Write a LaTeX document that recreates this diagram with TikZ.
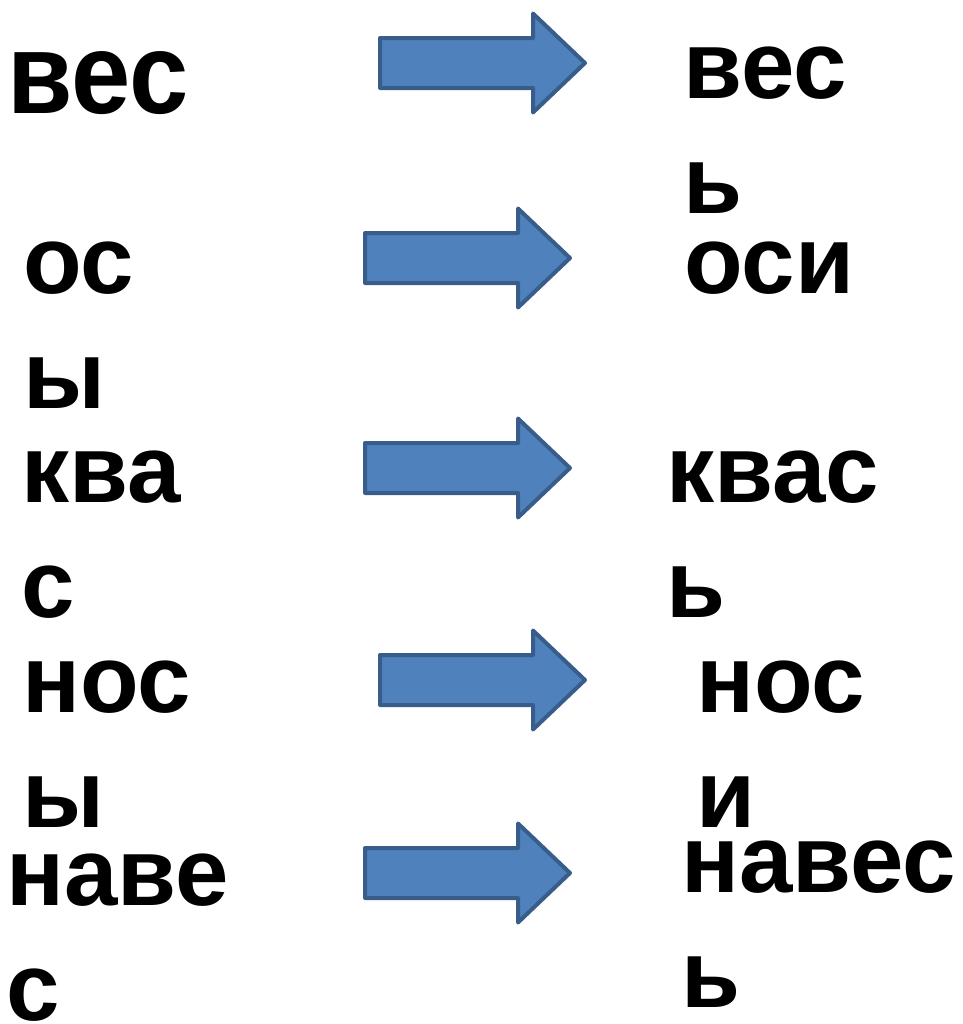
\documentclass[tikz,border=0pt]{standalone}
\usepackage{fontspec}
\setmainfont{Liberation Sans}
\definecolor{arrowfill}{HTML}{4F81BD}
\definecolor{arrowline}{HTML}{385D8A}
\tikzset{
    word/.style={anchor=base west, inner sep=0pt, align=left,
        font=\bfseries\fontsize{48}{57.5}\selectfont},
    blockarrow/.style={fill=arrowfill, draw=arrowline, line width=2pt, line join=round}
}
\begin{document}
\begin{tikzpicture}[x=0.5pt,y=-0.5pt]
    \useasboundingbox (0,0) rectangle (963,1024);
    % words before (base = last line)
    \node[word] (vesA) at (7,113) {\scalebox{1.11}[1.2]{вес}};
    \node[word] (osA) at (23,408) {ос\\ы};
    \node[word] (kvasA) at (21,617) {ква\\с};
    \node[word] (nosA) at (22,827) {нос\\ы};
    \node[word] (navesA) at (6,1020) {наве\\с};
    % words after
    \node[word] (vesB) at (683,213) {вес\\ь};
    \node[word] (osB) at (684,293) {оси};
    \node[word] (kvasB) at (666,617) {квас\\ь};
    \node[word] (nosB) at (696,827) {нос\\и};
    \node[word] (navesB) at (681,1007) {навес\\ь};
    % arrows
    \foreach \x/\y in {378/63, 363/258, 363/468, 378/680, 363/873} {
        \draw[blockarrow] (\x+2,\y-25) -- (\x+155,\y-25) -- (\x+155,\y-49.5)
            -- (\x+207,\y) -- (\x+155,\y+49.5) -- (\x+155,\y+25) -- (\x+2,\y+25) -- cycle;
    }
\end{tikzpicture}
\end{document}
